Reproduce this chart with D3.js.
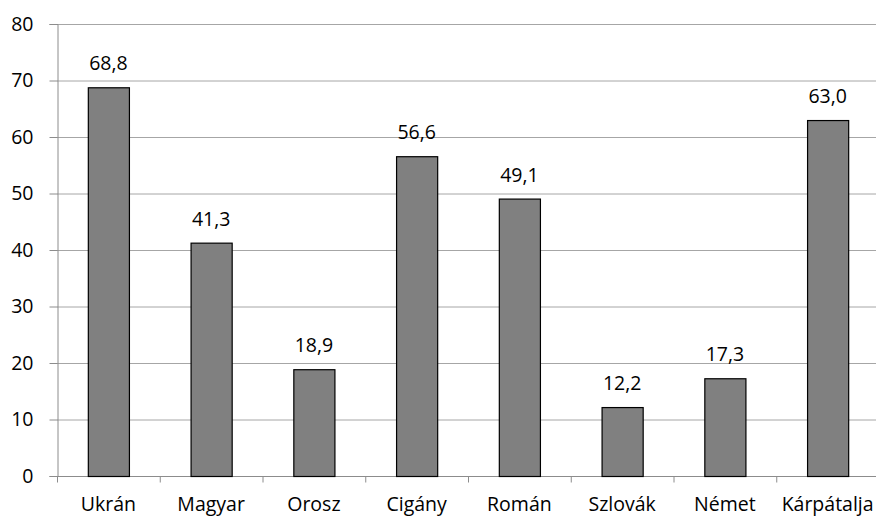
<!DOCTYPE html>
<html><head><meta charset="utf-8">
<script src="https://cdn.jsdelivr.net/npm/d3@7"></script>
<style>body{margin:0;background:#fff}svg{display:block}</style>
</head><body>
<script>
const categories = ["Ukrán","Magyar","Orosz","Cigány","Román","Szlovák","Német","Kárpátalja"];
const values = [68.8, 41.3, 18.9, 56.6, 49.1, 12.2, 17.3, 63.0];
const yTicks = [0,10,20,30,40,50,60,70,80];

(function(){
const W = 876, H = 517;
const mLeft = 57, mRight = 879, mTop = 24, mBottom = 476;
const svg = d3.select("body").append("svg").attr("width", W).attr("height", H);
const font = "'Open Sans', sans-serif";
const fs = 19.5;

const x = d3.scaleBand().domain(categories).range([mLeft, mRight]).paddingInner(0.6).paddingOuter(0.3);
const y = d3.scaleLinear().domain([0, 80]).range([mBottom, mTop]);

// gridlines
svg.append("g").selectAll("line").data(yTicks.filter(d => d > 0)).join("line")
  .attr("x1", mLeft).attr("x2", W).attr("y1", d => y(d) + 0.5).attr("y2", d => y(d) + 0.5)
  .attr("stroke", "#a6a6a6").attr("stroke-width", 1);

// y axis
const yAxis = svg.append("g").attr("transform", `translate(${mLeft + 0.5},0)`)
  .call(d3.axisLeft(y).tickValues(yTicks).tickSize(8).tickPadding(16).tickFormat(d3.format("d")));
yAxis.select(".domain").attr("stroke", "#8c8c8c");
yAxis.selectAll(".tick line").attr("stroke", "#8c8c8c");
yAxis.selectAll(".tick text").attr("font-family", font).attr("font-size", fs).attr("fill", "#000");

// x axis
const xOuter = d3.scaleBand().domain(categories).range([mLeft, mRight]);
const xAxisG = svg.append("g").attr("transform", `translate(0,${mBottom + 0.5})`);
xAxisG.append("line").attr("x1", mLeft).attr("x2", W).attr("stroke", "#8c8c8c");
xAxisG.selectAll("line.tk").data(categories).join("line").attr("class", "tk")
  .attr("x1", d => xOuter(d) + 0.5).attr("x2", d => xOuter(d) + 0.5).attr("y1", 0).attr("y2", 6)
  .attr("stroke", "#8c8c8c");
xAxisG.selectAll("text").data(categories).join("text")
  .attr("x", d => Math.min(xOuter(d) + xOuter.bandwidth() / 2, W - 48)).attr("y", 34.5)
  .attr("text-anchor", "middle").attr("font-family", font).attr("font-size", fs).attr("fill", "#000")
  .text(d => d);

// bars
svg.append("g").selectAll("rect").data(values).join("rect")
  .attr("x", (d, i) => x(categories[i]) + 0.5)
  .attr("y", d => y(d) + 0.5)
  .attr("width", x.bandwidth())
  .attr("height", d => y(0) - y(d))
  .attr("fill", "#808080").attr("stroke", "#000").attr("stroke-width", 1.2);

// value labels
svg.append("g").selectAll("text").data(values).join("text")
  .attr("x", (d, i) => x(categories[i]) + x.bandwidth() / 2)
  .attr("y", d => y(d) - 17)
  .attr("text-anchor", "middle").attr("font-family", font).attr("font-size", fs).attr("fill", "#000")
  .text(d => d3.format(".1f")(d).replace(".", ","));
})();
</script>
</body></html>
